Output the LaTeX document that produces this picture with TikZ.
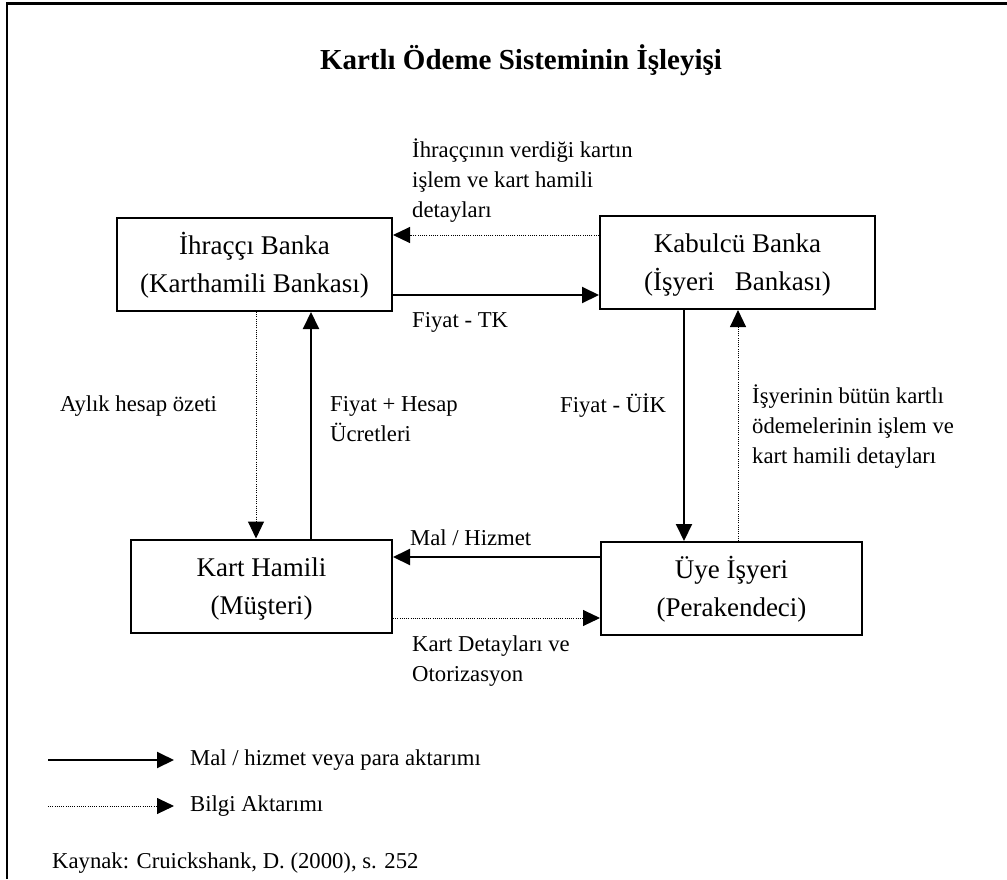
\documentclass[tikz,border=0pt]{standalone}
\usepackage{fontspec}
\setmainfont{Liberation Serif}
\usetikzlibrary{arrows.meta}
\newcommand\boxlines[2]{\rule{0pt}{24pt}#1\\#2\rule[-6pt]{0pt}{6pt}}
\begin{document}
\begin{tikzpicture}[x=1pt,y=-1pt,
  box/.style={draw,line width=2pt,minimum width=#1,minimum height=93pt,inner sep=0pt,align=center,font=\fontsize{27}{38}\selectfont},
  lbl/.style={anchor=west,align=left,inner sep=0pt,font=\fontsize{22.7}{30}\selectfont},
  flow/.style={line width=2pt,-{Triangle[length=17pt,width=16pt]}},
  info/.style={line width=1pt,dash pattern=on 1pt off 1.2pt,-{Triangle[length=17pt,width=16pt]}},
]
\useasboundingbox (0,0) rectangle (1007,879);
\draw[line width=2.5pt] (7,879) -- (7,3.5) -- (1007,3.5);

\node[font=\fontsize{29}{34}\selectfont\bfseries] (title) at (521,60) {Kartlı Ödeme Sisteminin İşleyişi};

\node[box=275pt] (ib) at (254.5,264.5) {\boxlines{İhraççı Banka}{(Karthamili Bankası)}};
\node[box=275pt] (kb) at (737.5,262.5) {\boxlines{Kabulcü Banka}{(İşyeri\ \ \ Bankası)}};
\node[box=261pt] (kh) at (261.5,586) {\boxlines{Kart Hamili}{(Müşteri)}};
\node[box=261pt] (ui) at (731.5,588.5) {\boxlines{Üye İşyeri}{(Perakendeci)}};

\draw[info] (kb.west |- 0,235) -- (ib.east |- 0,235);
\draw[flow] (ib.east |- 0,295) -- (kb.west |- 0,295);
\draw[info] (ib.south -| 256,0) -- (kh.north -| 256,0);
\draw[flow] (kh.north -| 311,0) -- (ib.south -| 311,0);
\draw[flow] (kb.south -| 684,0) -- (ui.north -| 684,0);
\draw[info] (ui.north -| 738,0) -- (kb.south -| 738,0);
\draw[flow] (ui.west |- 0,557) -- (kh.east |- 0,557);
\draw[info] (kh.east |- 0,618) -- (ui.west |- 0,618);

\node[lbl] (l1) at (412,181) {İhraççının verdiği kartın\\işlem ve kart hamili\\detayları};
\node[lbl] (l2) at (412,322) {Fiyat - TK};
\node[lbl] (l3) at (60,406) {Aylık hesap özeti};
\node[lbl] (l4) at (330,419) {Fiyat + Hesap\\Ücretleri};
\node[lbl] (l5) at (560,406) {Fiyat - ÜİK};
\node[lbl] (l6) at (752,427) {İşyerinin bütün kartlı\\ödemelerinin işlem ve\\kart hamili detayları};
\node[lbl] (l7) at (410,538) {Mal / Hizmet};
\node[lbl] (l8) at (412,661) {Kart Detayları ve\\Otorizasyon};

\coordinate (g1a) at (48,760);
\coordinate (g1b) at (174,760);
\draw[flow] (g1a) -- (g1b);
\node[lbl] (g1t) at (190,760) {Mal / hizmet veya para aktarımı};
\coordinate (g2a) at (48,806);
\coordinate (g2b) at (174,806);
\draw[info] (g2a) -- (g2b);
\node[lbl] (g2t) at (190,806) {Bilgi Aktarımı};

\node[lbl] (src) at (52,863) {Kaynak: Cruickshank, D. (2000), s. 252};
\end{tikzpicture}
\end{document}
